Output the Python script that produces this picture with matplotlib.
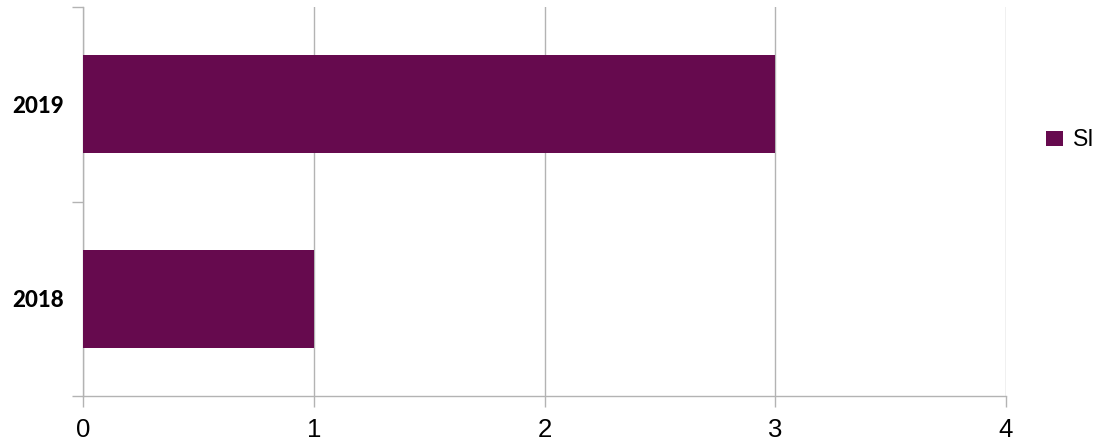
import matplotlib
matplotlib.use("Agg")
import matplotlib.pyplot as plt
from matplotlib.patches import Patch

categories = ["2018", "2019"]
values = [1, 3]
series_name = "SI"
x_ticks = [0, 1, 2, 3, 4]

color = "#660a4e"
grid_c = "#b3b3b3"

fig = plt.figure(figsize=(11.02, 4.41), dpi=100)
ax = fig.add_axes([83/1102, 1-396/441, (1006-83)/1102, (396-7)/441])

ypos = list(range(len(categories)))
ax.barh(ypos, values, height=0.505, color=color, zorder=3)

ax.set_xlim(0, 4)
ax.set_ylim(-0.5, len(categories)-0.5)
ax.set_xticks(x_ticks)
ax.set_xticklabels([str(t) for t in x_ticks], fontsize=18.5, family="Liberation Sans")
ax.xaxis.grid(True, color=grid_c, linewidth=1, zorder=0)

ax.set_yticks([-0.5, 0.5, 1.5])
ax.set_yticklabels([])
ax.set_yticks(ypos, minor=True)
ax.set_yticklabels(categories, minor=True, fontsize=16, fontweight=900, family="Lato")
ax.tick_params(axis="y", which="minor", length=0, pad=14)
ax.tick_params(axis="y", which="major", length=8, color=grid_c, width=1)
ax.tick_params(axis="x", length=8, color=grid_c, width=1, pad=8)

for s in ["top", "right"]:
    ax.spines[s].set_visible(False)
for s in ["left", "bottom"]:
    ax.spines[s].set_color(grid_c)
    ax.spines[s].set_linewidth(1)

handles = [Patch(facecolor=color, label=series_name)]
fig.legend(handles=handles, loc="center left", bbox_to_anchor=(1046/1102, 1-140/441),
           frameon=False, handlelength=0.73, handleheight=0.68,
           handletextpad=0.45, borderpad=0, borderaxespad=0,
           prop={"family": "Liberation Sans", "size": 16.5})

fig.savefig("out.png", dpi=100)
